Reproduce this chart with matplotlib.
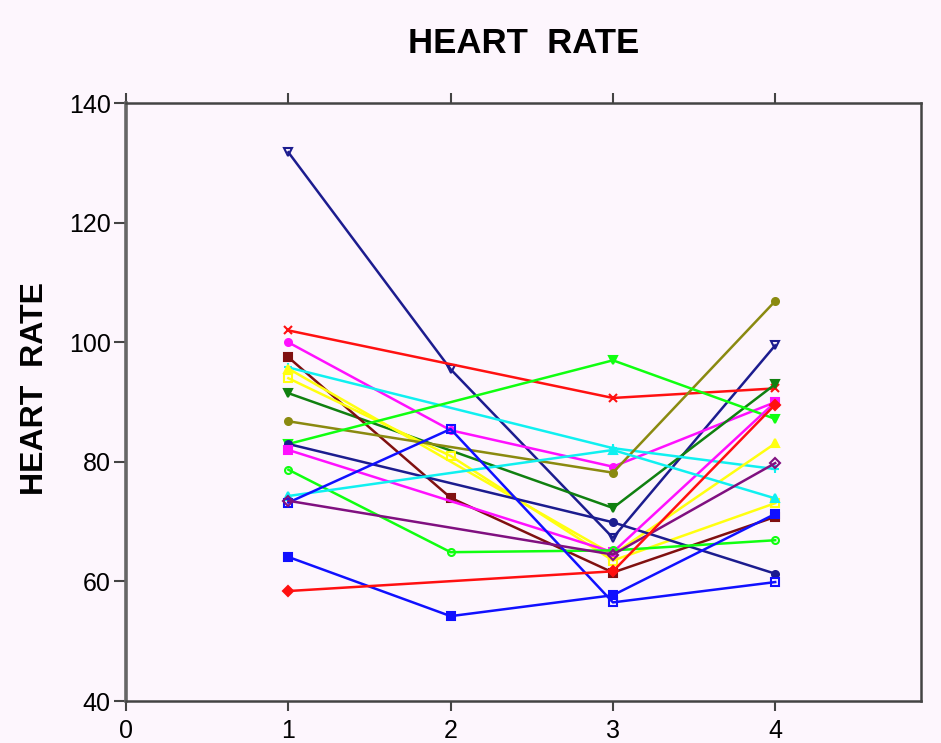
import numpy as np
import matplotlib
matplotlib.use("Agg")
from matplotlib import pyplot as plt

plt.rcParams['font.family'] = ['Liberation Sans', 'DejaVu Sans']

visits = [1, 2, 3, 4]

# heart rate per subject, nan = no reading at that visit
navy_tri = [131.8, 95.5, 67.3, 99.5]
red_x = [102.0, np.nan, 90.7, 92.3]
magenta_dot = [100.0, 85.3, 79.2, 90.0]
dkgreen = [91.5, np.nan, 72.3, 93.0]
maroon = [97.5, 74.0, 61.5, 70.8]
cyan_plus = [95.8, np.nan, 82.3, 78.8]
yellow_a = [95.6, np.nan, 64.5, 83.1]
yellow_b = [94.0, 81.0, 63.5, 73.1]
olive = [86.8, np.nan, 78.2, 106.9]
lime_tri = [83.0, np.nan, 97.0, 87.2]
navy_dot = [83.0, np.nan, 69.9, 61.3]
magenta_sq = [82.0, np.nan, 64.9, 90.0]
lime_ring = [78.7, 64.9, 65.2, 66.9]
cyan_tri = [74.3, np.nan, 82.0, 73.9]
blue_open = [73.2, 85.5, 56.5, 59.9]
purple = [73.5, np.nan, 64.5, 79.8]
blue_sq = [64.1, 54.2, 57.7, 71.3]
red_dia = [58.4, np.nan, 61.7, 89.6]

series = [
    (navy_tri, '#1c1c8f', 'v', 'none'),
    (red_x, '#ff1010', 'x', None),
    (magenta_dot, '#ff10ff', 'o', None),
    (dkgreen, '#108010', 'v', None),
    (maroon, '#801010', 's', None),
    (cyan_plus, '#10f0f0', '+', None),
    (yellow_a, '#ffff10', '^', None),
    (yellow_b, '#ffff10', 's', 'none'),
    (olive, '#8a8a10', 'o', None),
    (lime_tri, '#10ff10', 'v', None),
    (navy_dot, '#1c1c8f', 'o', None),
    (magenta_sq, '#ff10ff', 's', None),
    (lime_ring, '#10ff10', 'o', 'none'),
    (cyan_tri, '#10f0f0', '^', None),
    (blue_open, '#1010ff', 's', 'none'),
    (purple, '#801080', 'D', 'none'),
    (blue_sq, '#1010ff', 's', None),
    (red_dia, '#ff1010', 'D', None),
]

bg = '#fdf6fd'
fig = plt.figure(figsize=(9.41, 7.43), dpi=100, facecolor=bg)
ax = fig.add_axes([0.134, 0.0565, 0.845, 0.8045], facecolor=bg)

x = np.array(visits)
for vals, col, mk, face in series:
    y = np.array(vals, dtype=float)
    ok = ~np.isnan(y)
    ms = 5 if mk in ('D', 'o') else 6
    if face is None:
        ax.plot(x[ok], y[ok], color=col, lw=1.8, marker=mk, ms=ms, mew=1.5)
    else:
        ax.plot(x[ok], y[ok], color=col, lw=1.8, marker=mk, ms=ms, mew=1.5,
                markerfacecolor=face)

ax.set_xlim(0, 4.9)
ax.set_ylim(40, 140)
ax.set_yticks([40, 60, 80, 100, 120, 140])
ax.set_xticks([0, 1, 2, 3, 4])

for s in ax.spines.values():
    s.set_color('#444444')
    s.set_linewidth(1.8)
ax.spines['left'].set_linewidth(2.6)
ax.spines['left'].set_color('#666666')

ax.tick_params(axis='y', direction='out', length=9, width=1.5, color='#444444',
               labelsize=18, pad=2)
ax.tick_params(axis='x', direction='out', length=7, width=1.5, color='#444444',
               labelsize=18, top=True, pad=6)

ax.set_ylabel('HEART  RATE', fontsize=23, fontweight='bold')
ax.yaxis.set_label_coords(-0.096, 0.523)
ax.set_title('HEART  RATE', fontsize=25, fontweight='bold', pad=36)

fig.savefig('out.png', dpi=100, facecolor=bg)
